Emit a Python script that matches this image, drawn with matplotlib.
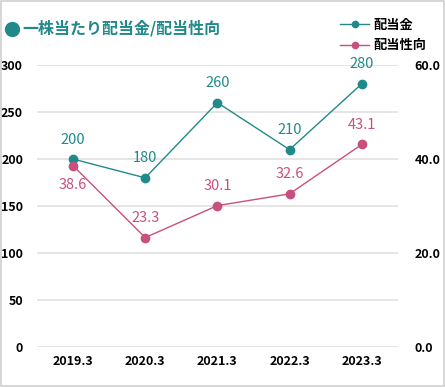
import matplotlib.pyplot as plt
from matplotlib.patches import Rectangle
from matplotlib.lines import Line2D

plt.rcParams['font.family'] = ['Noto Sans CJK JP', 'DejaVu Sans']

# data
years = ['2019.3', '2020.3', '2021.3', '2022.3', '2023.3']
dividend = [200, 180, 260, 210, 280]
payout = [38.6, 23.3, 30.1, 32.6, 43.1]

teal = '#22898a'
pink = '#c9507e'

fig = plt.figure(figsize=(4.45, 3.87), dpi=100)
fig.patches.append(Rectangle((0.002, 0.003), 0.995, 0.994, transform=fig.transFigure,
                             fill=False, edgecolor='#d0d0d0', linewidth=1.2))

ax = fig.add_axes([0.083, 0.103, 0.811, 0.729])
ax2 = ax.twinx()

x = list(range(len(years)))
l1, = ax.plot(x, dividend, color=teal, marker='o', markersize=6, linewidth=1.0, label='配当金')
l2, = ax2.plot(x, payout, color=pink, marker='o', markersize=6, linewidth=1.0, label='配当性向')

ax.set_ylim(0, 300)
ax.set_yticks(range(0, 301, 50))
ax2.set_ylim(0, 60)
ax2.set_yticks([0, 20, 40, 60])
ax2.set_yticklabels([f'{v:.1f}' for v in [0, 20, 40, 60]])
ax.set_xlim(-0.5, 4.5)
ax.set_xticks(x)
ax.set_xticklabels(years)

ax.grid(axis='y', color='#e0e0e0', linewidth=1.2)
ax.set_axisbelow(True)
for a in (ax, ax2):
    for s in a.spines.values():
        s.set_visible(False)
    a.tick_params(length=0, labelsize=9)
    for t in a.get_xticklabels() + a.get_yticklabels():
        t.set_fontweight('bold')
ax.tick_params(axis='y', pad=10)
ax2.tick_params(axis='y', pad=12)
ax.tick_params(axis='x', pad=6)

# data labels
for i, v in enumerate(dividend):
    ax.annotate(str(v), (i, v), xytext=(0, 9), textcoords='offset points',
                ha='center', va='bottom', color=teal, fontsize=10.5)
for i, v in enumerate(payout):
    off = -9 if i == 0 else 9
    ax2.annotate(f'{v:.1f}', (i, v), xytext=(0, off), textcoords='offset points',
                 ha='center', va='top' if i == 0 else 'bottom', color=pink, fontsize=10.5)

# title
fig.add_artist(Line2D([0.027], [0.926], marker='o', markersize=10, color=teal,
                      transform=fig.transFigure))
fig.text(0.05, 0.926, '一株当たり配当金/配当性向', color=teal, fontsize=11.5,
         fontweight='bold', va='center', ha='left')

fig.legend(handles=[l1, l2], loc='upper right', bbox_to_anchor=(0.985, 0.985),
           frameon=False, handlelength=2.2, handletextpad=0.3, markerscale=0.75,
           labelspacing=0.5, prop={'weight': 'bold', 'size': 9.5})

fig.savefig('out.png', dpi=100)
